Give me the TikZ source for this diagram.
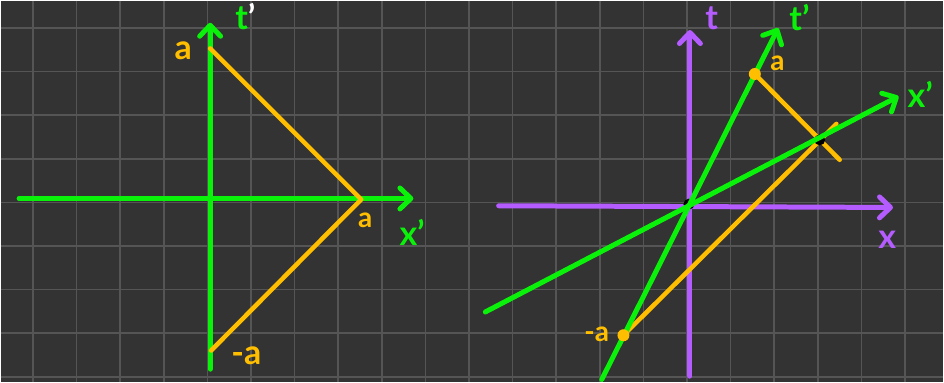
\documentclass[tikz,border=0pt]{standalone}
\usepackage{fontspec}
\setmainfont{Lato}
\usetikzlibrary{arrows.meta}
\definecolor{board}{HTML}{333333}
\definecolor{gridline}{HTML}{555555}
\definecolor{spacegreen}{HTML}{0AF20A}
\definecolor{lightgold}{HTML}{FFBF00}
\definecolor{axispurple}{HTML}{B45CFF}

\begin{document}
\begin{tikzpicture}[x=1pt, y=-1pt,
    axis/.style={line width=5pt, line cap=round, -{Straight Barb[length=11pt, width=21pt, round]}},
    lightray/.style={line width=4.5pt, line cap=round, line join=round, draw=lightgold},
    event/.style={circle, fill=lightgold, inner sep=0pt, minimum size=12pt},
    crossing/.style={circle, fill=black, inner sep=0pt, minimum size=11pt},
    lbl/.style={font=\bfseries\fontsize{34}{34}\selectfont, inner sep=0pt},
    small/.style={font=\bfseries\fontsize{28}{28}\selectfont, inner sep=0pt}
]

% Board
\fill[board] (0,0) rectangle (944,382);
\foreach \k in {0,...,20}
  \draw[gridline, line width=1.6pt] ({32.3+43.67*\k},0) -- ({32.3+43.67*\k},382);
\foreach \k in {0,...,8}
  \draw[gridline, line width=1.6pt] (0,{27.3+43.67*\k}) -- (944,{27.3+43.67*\k});

% Left: primed frame
\coordinate (tpbot) at (209.7,369);
\coordinate (tptop) at (209.7,22);
\coordinate (xpleft) at (18.3,198);
\coordinate (xpright) at (413.3,198);
\coordinate (pa) at (209.7,47.7);
\coordinate (pxa) at (361,199);
\coordinate (pma) at (210.7,350.3);

\draw[axis, spacegreen] (xpleft) -- (xpright);
\draw[axis, spacegreen] (tpbot) -- (tptop);
\draw[lightray] (pa) -- (pxa) -- (pma);

\node[lbl, lightgold] (lpa) at (182.7,50) {a};
\node[lbl, spacegreen] (ltp) at (245,16) {t\textcolor{white}{'}};
\node[small, lightgold] (lpxa) at (365,220) {a};
\node[lbl, spacegreen] (lxp) at (412,232) {x'};
\node[lbl, lightgold] (lpma) at (246,356) {-a};

% Right: both frames
\coordinate (tbot) at (690.3,376);
\coordinate (ttop) at (690.3,29.3);
\coordinate (xleft) at (498.7,205.3);
\coordinate (xright) at (893.7,207);
\coordinate (orig) at (689.3,203.7);
\coordinate (tpbot2) at (602,379.3);
\coordinate (tptop2) at (778.7,27.3);
\coordinate (xpleft2) at (485.3,311.7);
\coordinate (xpright2) at (899.3,95.7);
\coordinate (ea) at (755.3,73.3);
\coordinate (eaend) at (840.3,159.3);
\coordinate (ema) at (623.7,335);
\coordinate (emaend) at (837,123.3);
\coordinate (meet) at (820.3,139.3);

\draw[axis, axispurple] (tbot) -- (ttop);
\draw[axis, axispurple] (xleft) -- (xright);
\draw[lightray] (ea) -- (eaend);
\draw[lightray] (ema) -- (emaend);
\node[crossing] at (orig) {};
\node[crossing] at (meet) {};
\draw[axis, spacegreen] (tpbot2) -- (tptop2);
\draw[axis, spacegreen] (xpleft2) -- (xpright2);
\node[event] at (ea) {};
\node[event] at (ema) {};

\node[lbl, axispurple] (lt) at (712,17) {t};
\node[lbl, axispurple] (lx) at (888,239) {x};
\node[lbl, spacegreen] (ltp2) at (800,17) {t'};
\node[lbl, spacegreen] (lxp2) at (921,94) {x'};
\node[small, lightgold] (la) at (778,63) {a};
\node[small, lightgold] (lma) at (597,334) {-a};

\end{tikzpicture}
\end{document}
